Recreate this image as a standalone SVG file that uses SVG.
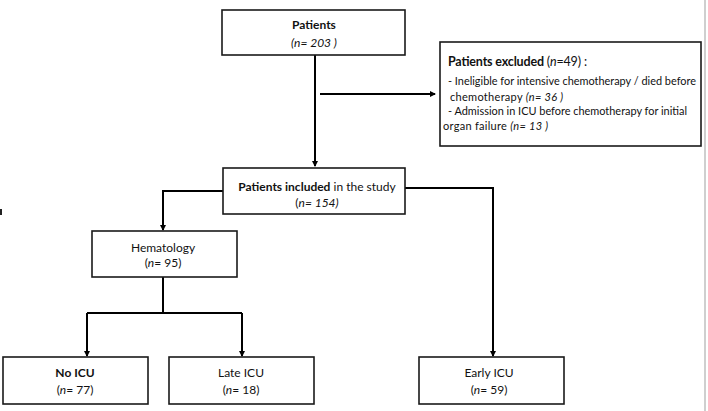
<svg xmlns="http://www.w3.org/2000/svg" width="708" height="411" viewBox="0 0 708 411">
<style>
.box{fill:#fff;stroke:#1a1a1a;stroke-width:1.6}
.ln{fill:none;stroke:#000;stroke-width:2}
text{font-family:Lato,"Open Sans","Liberation Sans",sans-serif;fill:#111}
.t{font-size:12px;text-anchor:middle}
.s{font-size:11px}
.b{font-weight:bold}
.i{font-style:italic}
</style>
<defs>
<marker id="ah" markerWidth="6" markerHeight="6" refX="5" refY="3" orient="auto" markerUnits="userSpaceOnUse">
<path d="M0,0 L6,3 L0,6 Z" fill="#000"/>
</marker>
</defs>
<rect width="708" height="411" fill="#fff"/>
<line x1="705" y1="0" x2="705" y2="411" stroke="#cfcfcf" stroke-width="2"/>
<rect x="0" y="209" width="2" height="6" fill="#222"/>
<g id="connectors">
<path class="ln" d="M315,55 V166" marker-end="url(#ah)"/>
<path class="ln" d="M320,94 H435" stroke-width="1.5" marker-end="url(#ah)"/>
<path class="ln" d="M223,191 H163 V230" marker-end="url(#ah)"/>
<path class="ln" d="M405,188 H493 V356" marker-end="url(#ah)"/>
<path class="ln" d="M163,277 V313"/>
<path class="ln" d="M87,313 H242"/>
<path class="ln" d="M87,313 V356" marker-end="url(#ah)"/>
<path class="ln" d="M242,313 V356" marker-end="url(#ah)"/>
</g>
<g id="patients">
<rect class="box" x="222" y="10" width="183" height="45"/>
<text class="t b" x="314" y="29">Patients</text>
<text class="t i" x="314" y="47">(n= 203 )</text>
</g>
<g id="excluded">
<rect class="box" x="440" y="42" width="261" height="104"/>
<text x="448" y="66" font-size="12.5" textLength="139"><tspan class="b">Patients excluded</tspan> (<tspan class="i">n</tspan>=49) :</text>
<text class="s" x="448" y="85" textLength="248" lengthAdjust="spacingAndGlyphs">- Ineligible for intensive chemotherapy / died before</text>
<text class="s" x="450" y="101" textLength="113">chemotherapy  <tspan class="i">(n= 36 )</tspan></text>
<text class="s" x="448" y="115" textLength="239" lengthAdjust="spacingAndGlyphs">- Admission in ICU before chemotherapy for initial</text>
<text class="s" x="443" y="130" textLength="105">organ failure <tspan class="i">(n= 13 )</tspan></text>
</g>
<g id="included">
<rect class="box" x="223" y="168" width="182" height="46"/>
<text class="t" x="317" y="191"><tspan class="b">Patients included</tspan> in the study</text>
<text class="t" x="317" y="207">(<tspan class="i">n= 154)</tspan></text>
</g>
<g id="hematology">
<rect class="box" x="92" y="231" width="145" height="46"/>
<text class="t" x="163" y="252">Hematology</text>
<text class="t" x="163" y="267">(<tspan class="i">n</tspan>= 95)</text>
</g>
<g id="noicu">
<rect class="box" x="3" y="357" width="145" height="47"/>
<text class="t b" x="75" y="377">No ICU</text>
<text class="t" x="75" y="394">(<tspan class="i">n</tspan>= 77)</text>
</g>
<g id="lateicu">
<rect class="box" x="169" y="357" width="145" height="47"/>
<text class="t" x="241" y="377">Late ICU</text>
<text class="t" x="241" y="394">(<tspan class="i">n</tspan>= 18)</text>
</g>
<g id="earlyicu">
<rect class="box" x="419" y="357" width="145" height="47"/>
<text class="t" x="489" y="377">Early ICU</text>
<text class="t" x="489" y="394">(<tspan class="i">n</tspan>= 59)</text>
</g>
</svg>
